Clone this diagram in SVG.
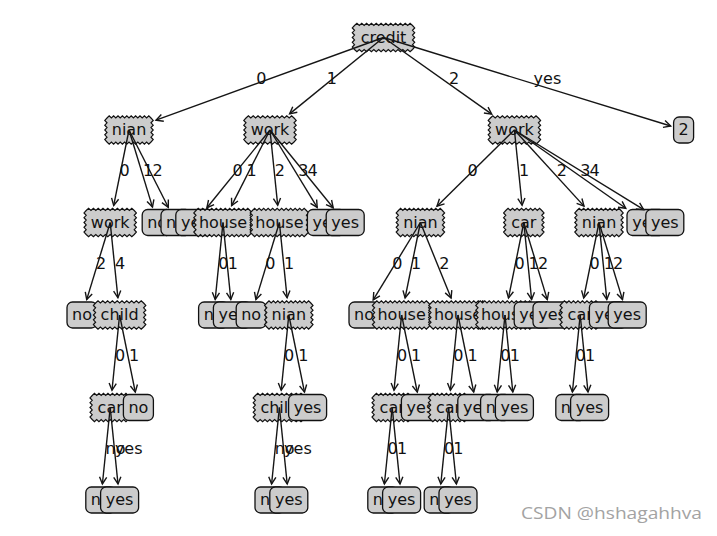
<svg xmlns="http://www.w3.org/2000/svg" width="717" height="536" viewBox="0 0 717 536">
<style>
.d{fill:#cccccc;stroke:#111;stroke-width:1.2;stroke-linejoin:miter}
.lf{fill:#cccccc;stroke:#111;stroke-width:1.3}
.t{font-family:"DejaVu Sans",sans-serif;font-size:16px;text-anchor:middle;fill:#111}
.l{font-family:"DejaVu Sans",sans-serif;font-size:16px;text-anchor:start;fill:#111}
.e{stroke:#151515;stroke-width:1.4;fill:none;marker-end:url(#ah)}
.wm{font-family:"Open Sans","Noto Sans",sans-serif;font-size:16.5px;fill:#a3a3a3}
</style>
<defs>
<marker id="ah" markerWidth="10" markerHeight="10" viewBox="-8 -5 10 10" refX="0" refY="0" orient="auto" markerUnits="userSpaceOnUse" overflow="visible"><path d="M-7,-3.6 L0,0 L-7,3.6" fill="none" stroke="#151515" stroke-width="1.4"/></marker>
<path id="saw58" class="d" d="M-29,-12 l2.4167,-2.2 2.4167,2.2 2.4167,-2.2 2.4167,2.2 2.4167,-2.2 2.4167,2.2 2.4167,-2.2 2.4167,2.2 2.4167,-2.2 2.4167,2.2 2.4167,-2.2 2.4167,2.2 2.4167,-2.2 2.4167,2.2 2.4167,-2.2 2.4167,2.2 2.4167,-2.2 2.4167,2.2 2.4167,-2.2 2.4167,2.2 2.4167,-2.2 2.4167,2.2 2.4167,-2.2 2.4167,2.2 2.2,2.4 -2.2,2.4 2.2,2.4 -2.2,2.4 2.2,2.4 -2.2,2.4 2.2,2.4 -2.2,2.4 2.2,2.4 -2.2,2.4 -2.4167,2.2 -2.4167,-2.2 -2.4167,2.2 -2.4167,-2.2 -2.4167,2.2 -2.4167,-2.2 -2.4167,2.2 -2.4167,-2.2 -2.4167,2.2 -2.4167,-2.2 -2.4167,2.2 -2.4167,-2.2 -2.4167,2.2 -2.4167,-2.2 -2.4167,2.2 -2.4167,-2.2 -2.4167,2.2 -2.4167,-2.2 -2.4167,2.2 -2.4167,-2.2 -2.4167,2.2 -2.4167,-2.2 -2.4167,2.2 -2.4167,-2.2 -2.2,-2.4 2.2,-2.4 -2.2,-2.4 2.2,-2.4 -2.2,-2.4 2.2,-2.4 -2.2,-2.4 2.2,-2.4 -2.2,-2.4 2.2,-2.4z"/>
<path id="saw44" class="d" d="M-22,-12 l2.2,-2.2 2.2,2.2 2.2,-2.2 2.2,2.2 2.2,-2.2 2.2,2.2 2.2,-2.2 2.2,2.2 2.2,-2.2 2.2,2.2 2.2,-2.2 2.2,2.2 2.2,-2.2 2.2,2.2 2.2,-2.2 2.2,2.2 2.2,-2.2 2.2,2.2 2.2,-2.2 2.2,2.2 2.2,2.4 -2.2,2.4 2.2,2.4 -2.2,2.4 2.2,2.4 -2.2,2.4 2.2,2.4 -2.2,2.4 2.2,2.4 -2.2,2.4 -2.2,2.2 -2.2,-2.2 -2.2,2.2 -2.2,-2.2 -2.2,2.2 -2.2,-2.2 -2.2,2.2 -2.2,-2.2 -2.2,2.2 -2.2,-2.2 -2.2,2.2 -2.2,-2.2 -2.2,2.2 -2.2,-2.2 -2.2,2.2 -2.2,-2.2 -2.2,2.2 -2.2,-2.2 -2.2,2.2 -2.2,-2.2 -2.2,-2.4 2.2,-2.4 -2.2,-2.4 2.2,-2.4 -2.2,-2.4 2.2,-2.4 -2.2,-2.4 2.2,-2.4 -2.2,-2.4 2.2,-2.4z"/>
<path id="saw48" class="d" d="M-24,-12 l2.4,-2.2 2.4,2.2 2.4,-2.2 2.4,2.2 2.4,-2.2 2.4,2.2 2.4,-2.2 2.4,2.2 2.4,-2.2 2.4,2.2 2.4,-2.2 2.4,2.2 2.4,-2.2 2.4,2.2 2.4,-2.2 2.4,2.2 2.4,-2.2 2.4,2.2 2.4,-2.2 2.4,2.2 2.2,2.4 -2.2,2.4 2.2,2.4 -2.2,2.4 2.2,2.4 -2.2,2.4 2.2,2.4 -2.2,2.4 2.2,2.4 -2.2,2.4 -2.4,2.2 -2.4,-2.2 -2.4,2.2 -2.4,-2.2 -2.4,2.2 -2.4,-2.2 -2.4,2.2 -2.4,-2.2 -2.4,2.2 -2.4,-2.2 -2.4,2.2 -2.4,-2.2 -2.4,2.2 -2.4,-2.2 -2.4,2.2 -2.4,-2.2 -2.4,2.2 -2.4,-2.2 -2.4,2.2 -2.4,-2.2 -2.2,-2.4 2.2,-2.4 -2.2,-2.4 2.2,-2.4 -2.2,-2.4 2.2,-2.4 -2.2,-2.4 2.2,-2.4 -2.2,-2.4 2.2,-2.4z"/>
<path id="saw36" class="d" d="M-18,-12 l2.25,-2.2 2.25,2.2 2.25,-2.2 2.25,2.2 2.25,-2.2 2.25,2.2 2.25,-2.2 2.25,2.2 2.25,-2.2 2.25,2.2 2.25,-2.2 2.25,2.2 2.25,-2.2 2.25,2.2 2.25,-2.2 2.25,2.2 2.2,2.4 -2.2,2.4 2.2,2.4 -2.2,2.4 2.2,2.4 -2.2,2.4 2.2,2.4 -2.2,2.4 2.2,2.4 -2.2,2.4 -2.25,2.2 -2.25,-2.2 -2.25,2.2 -2.25,-2.2 -2.25,2.2 -2.25,-2.2 -2.25,2.2 -2.25,-2.2 -2.25,2.2 -2.25,-2.2 -2.25,2.2 -2.25,-2.2 -2.25,2.2 -2.25,-2.2 -2.25,2.2 -2.25,-2.2 -2.2,-2.4 2.2,-2.4 -2.2,-2.4 2.2,-2.4 -2.2,-2.4 2.2,-2.4 -2.2,-2.4 2.2,-2.4 -2.2,-2.4 2.2,-2.4z"/>
<path id="saw54" class="d" d="M-27,-12 l2.25,-2.2 2.25,2.2 2.25,-2.2 2.25,2.2 2.25,-2.2 2.25,2.2 2.25,-2.2 2.25,2.2 2.25,-2.2 2.25,2.2 2.25,-2.2 2.25,2.2 2.25,-2.2 2.25,2.2 2.25,-2.2 2.25,2.2 2.25,-2.2 2.25,2.2 2.25,-2.2 2.25,2.2 2.25,-2.2 2.25,2.2 2.25,-2.2 2.25,2.2 2.2,2.4 -2.2,2.4 2.2,2.4 -2.2,2.4 2.2,2.4 -2.2,2.4 2.2,2.4 -2.2,2.4 2.2,2.4 -2.2,2.4 -2.25,2.2 -2.25,-2.2 -2.25,2.2 -2.25,-2.2 -2.25,2.2 -2.25,-2.2 -2.25,2.2 -2.25,-2.2 -2.25,2.2 -2.25,-2.2 -2.25,2.2 -2.25,-2.2 -2.25,2.2 -2.25,-2.2 -2.25,2.2 -2.25,-2.2 -2.25,2.2 -2.25,-2.2 -2.25,2.2 -2.25,-2.2 -2.25,2.2 -2.25,-2.2 -2.25,2.2 -2.25,-2.2 -2.2,-2.4 2.2,-2.4 -2.2,-2.4 2.2,-2.4 -2.2,-2.4 2.2,-2.4 -2.2,-2.4 2.2,-2.4 -2.2,-2.4 2.2,-2.4z"/>
<rect id="lno" class="lf" x="-15" y="-13" width="30" height="26" rx="5.5"/>
<rect id="lyes" class="lf" x="-19" y="-13" width="38" height="26" rx="5.5"/>
<rect id="l2" class="lf" x="-10" y="-13" width="20" height="26" rx="5.5"/>
</defs>
<rect width="717" height="536" fill="#ffffff"/>
<g id="nodes">
<g id="n1" transform="translate(383.5,37.5)"><use href="#saw58"/><text class="t" y="5">credit</text></g>
<g id="n2" transform="translate(129,130)"><use href="#saw44"/><text class="t" y="5">nian</text></g>
<g id="n3" transform="translate(110.2,222.5)"><use href="#saw48"/><text class="t" y="5">work</text></g>
<g id="n4" transform="translate(82,315)"><use href="#lno"/><text class="t" y="5">no</text></g>
<g id="n5" transform="translate(119.6,315)"><use href="#saw48"/><text class="t" y="5">child</text></g>
<g id="n6" transform="translate(110.2,407.5)"><use href="#saw36"/><text class="t" y="5">car</text></g>
<g id="n7" transform="translate(100.8,500)"><use href="#lno"/><text class="t" y="5">no</text></g>
<g id="n8" transform="translate(119.6,500)"><use href="#lyes"/><text class="t" y="5">yes</text></g>
<g id="n9" transform="translate(138.4,407.5)"><use href="#lno"/><text class="t" y="5">no</text></g>
<g id="n10" transform="translate(157.2,222.5)"><use href="#lno"/><text class="t" y="5">no</text></g>
<g id="n11" transform="translate(176,222.5)"><use href="#lno"/><text class="t" y="5">no</text></g>
<g id="n12" transform="translate(270,130)"><use href="#saw48"/><text class="t" y="5">work</text></g>
<g id="n13" transform="translate(194.8,222.5)"><use href="#lyes"/><text class="t" y="5">yes</text></g>
<g id="n14" transform="translate(223,222.5)"><use href="#saw54"/><text class="t" y="5">house</text></g>
<g id="n15" transform="translate(213.6,315)"><use href="#lno"/><text class="t" y="5">no</text></g>
<g id="n16" transform="translate(232.4,315)"><use href="#lyes"/><text class="t" y="5">yes</text></g>
<g id="n17" transform="translate(279.4,222.5)"><use href="#saw54"/><text class="t" y="5">house</text></g>
<g id="n18" transform="translate(251.2,315)"><use href="#lno"/><text class="t" y="5">no</text></g>
<g id="n19" transform="translate(288.8,315)"><use href="#saw44"/><text class="t" y="5">nian</text></g>
<g id="n20" transform="translate(279.4,407.5)"><use href="#saw48"/><text class="t" y="5">child</text></g>
<g id="n21" transform="translate(270,500)"><use href="#lno"/><text class="t" y="5">no</text></g>
<g id="n22" transform="translate(288.8,500)"><use href="#lyes"/><text class="t" y="5">yes</text></g>
<g id="n23" transform="translate(307.6,407.5)"><use href="#lyes"/><text class="t" y="5">yes</text></g>
<g id="n24" transform="translate(326.4,222.5)"><use href="#lyes"/><text class="t" y="5">yes</text></g>
<g id="n25" transform="translate(345.2,222.5)"><use href="#lyes"/><text class="t" y="5">yes</text></g>
<g id="n26" transform="translate(514.4,130)"><use href="#saw48"/><text class="t" y="5">work</text></g>
<g id="n27" transform="translate(420.4,222.5)"><use href="#saw44"/><text class="t" y="5">nian</text></g>
<g id="n28" transform="translate(364,315)"><use href="#lno"/><text class="t" y="5">no</text></g>
<g id="n29" transform="translate(401.6,315)"><use href="#saw54"/><text class="t" y="5">house</text></g>
<g id="n30" transform="translate(392.2,407.5)"><use href="#saw36"/><text class="t" y="5">car</text></g>
<g id="n31" transform="translate(382.8,500)"><use href="#lno"/><text class="t" y="5">no</text></g>
<g id="n32" transform="translate(401.6,500)"><use href="#lyes"/><text class="t" y="5">yes</text></g>
<g id="n33" transform="translate(420.4,407.5)"><use href="#lyes"/><text class="t" y="5">yes</text></g>
<g id="n34" transform="translate(458,315)"><use href="#saw54"/><text class="t" y="5">house</text></g>
<g id="n35" transform="translate(448.6,407.5)"><use href="#saw36"/><text class="t" y="5">car</text></g>
<g id="n36" transform="translate(439.2,500)"><use href="#lno"/><text class="t" y="5">no</text></g>
<g id="n37" transform="translate(458,500)"><use href="#lyes"/><text class="t" y="5">yes</text></g>
<g id="n38" transform="translate(476.8,407.5)"><use href="#lyes"/><text class="t" y="5">yes</text></g>
<g id="n39" transform="translate(523.8,222.5)"><use href="#saw36"/><text class="t" y="5">car</text></g>
<g id="n40" transform="translate(505,315)"><use href="#saw54"/><text class="t" y="5">house</text></g>
<g id="n41" transform="translate(495.6,407.5)"><use href="#lno"/><text class="t" y="5">no</text></g>
<g id="n42" transform="translate(514.4,407.5)"><use href="#lyes"/><text class="t" y="5">yes</text></g>
<g id="n43" transform="translate(533.2,315)"><use href="#lyes"/><text class="t" y="5">yes</text></g>
<g id="n44" transform="translate(552,315)"><use href="#lyes"/><text class="t" y="5">yes</text></g>
<g id="n45" transform="translate(599,222.5)"><use href="#saw44"/><text class="t" y="5">nian</text></g>
<g id="n46" transform="translate(580.2,315)"><use href="#saw36"/><text class="t" y="5">car</text></g>
<g id="n47" transform="translate(570.8,407.5)"><use href="#lno"/><text class="t" y="5">no</text></g>
<g id="n48" transform="translate(589.6,407.5)"><use href="#lyes"/><text class="t" y="5">yes</text></g>
<g id="n49" transform="translate(608.4,315)"><use href="#lyes"/><text class="t" y="5">yes</text></g>
<g id="n50" transform="translate(627.2,315)"><use href="#lyes"/><text class="t" y="5">yes</text></g>
<g id="n51" transform="translate(646,222.5)"><use href="#lyes"/><text class="t" y="5">yes</text></g>
<g id="n52" transform="translate(664.8,222.5)"><use href="#lyes"/><text class="t" y="5">yes</text></g>
<g id="n53" transform="translate(683.6,130)"><use href="#l2"/><text class="t" y="5">2</text></g>
</g>
<g id="connectors">
<line class="e" x1="383.5" y1="37.5" x2="156.0" y2="120.2"/>
<line class="e" x1="383.5" y1="37.5" x2="289.6" y2="113.9"/>
<line class="e" x1="383.5" y1="37.5" x2="491.7" y2="114.1"/>
<line class="e" x1="383.5" y1="37.5" x2="670.7" y2="126.0"/>
<line class="e" x1="129" y1="130" x2="113.7" y2="205.4"/>
<line class="e" x1="129" y1="130" x2="152.5" y2="207.1"/>
<line class="e" x1="129" y1="130" x2="168.3" y2="207.3"/>
<line class="e" x1="270" y1="130" x2="206.9" y2="207.7"/>
<line class="e" x1="270" y1="130" x2="231.6" y2="205.6"/>
<line class="e" x1="270" y1="130" x2="277.7" y2="205.3"/>
<line class="e" x1="270" y1="130" x2="317.2" y2="207.4"/>
<line class="e" x1="270" y1="130" x2="333.2" y2="207.7"/>
<line class="e" x1="514.4" y1="130" x2="437.0" y2="206.2"/>
<line class="e" x1="514.4" y1="130" x2="522.1" y2="205.3"/>
<line class="e" x1="514.4" y1="130" x2="584.0" y2="206.1"/>
<line class="e" x1="514.4" y1="130" x2="625.8" y2="208.3"/>
<line class="e" x1="514.4" y1="130" x2="643.7" y2="209.6"/>
<line class="e" x1="110.2" y1="222.5" x2="86.7" y2="299.6"/>
<line class="e" x1="110.2" y1="222.5" x2="117.9" y2="297.8"/>
<line class="e" x1="223" y1="222.5" x2="215.2" y2="299.5"/>
<line class="e" x1="223" y1="222.5" x2="230.8" y2="299.5"/>
<line class="e" x1="279.4" y1="222.5" x2="255.9" y2="299.6"/>
<line class="e" x1="279.4" y1="222.5" x2="287.1" y2="297.8"/>
<line class="e" x1="420.4" y1="222.5" x2="373.2" y2="299.9"/>
<line class="e" x1="420.4" y1="222.5" x2="405.1" y2="297.9"/>
<line class="e" x1="420.4" y1="222.5" x2="451.1" y2="298.0"/>
<line class="e" x1="523.8" y1="222.5" x2="508.5" y2="297.9"/>
<line class="e" x1="523.8" y1="222.5" x2="531.6" y2="299.5"/>
<line class="e" x1="523.8" y1="222.5" x2="547.3" y2="299.6"/>
<line class="e" x1="599" y1="222.5" x2="583.7" y2="297.9"/>
<line class="e" x1="599" y1="222.5" x2="606.8" y2="299.5"/>
<line class="e" x1="599" y1="222.5" x2="622.5" y2="299.6"/>
<line class="e" x1="119.6" y1="315" x2="112.0" y2="390.3"/>
<line class="e" x1="119.6" y1="315" x2="135.3" y2="392.1"/>
<line class="e" x1="288.8" y1="315" x2="281.2" y2="390.3"/>
<line class="e" x1="288.8" y1="315" x2="304.5" y2="392.1"/>
<line class="e" x1="401.6" y1="315" x2="394.0" y2="390.3"/>
<line class="e" x1="401.6" y1="315" x2="417.3" y2="392.1"/>
<line class="e" x1="458" y1="315" x2="450.4" y2="390.3"/>
<line class="e" x1="458" y1="315" x2="473.7" y2="392.1"/>
<line class="e" x1="505" y1="315" x2="497.2" y2="392.0"/>
<line class="e" x1="505" y1="315" x2="512.8" y2="392.0"/>
<line class="e" x1="580.2" y1="315" x2="572.4" y2="392.0"/>
<line class="e" x1="580.2" y1="315" x2="588.0" y2="392.0"/>
<line class="e" x1="110.2" y1="407.5" x2="102.4" y2="484.0"/>
<line class="e" x1="110.2" y1="407.5" x2="118.0" y2="484.0"/>
<line class="e" x1="279.4" y1="407.5" x2="271.6" y2="484.0"/>
<line class="e" x1="279.4" y1="407.5" x2="287.2" y2="484.0"/>
<line class="e" x1="392.2" y1="407.5" x2="384.4" y2="484.0"/>
<line class="e" x1="392.2" y1="407.5" x2="400.0" y2="484.0"/>
<line class="e" x1="448.6" y1="407.5" x2="440.8" y2="484.0"/>
<line class="e" x1="448.6" y1="407.5" x2="456.4" y2="484.0"/>
</g>
<g id="edge-labels">
<text class="l" x="256.3" y="83.75">0</text>
<text class="l" x="326.8" y="83.75">1</text>
<text class="l" x="449" y="83.75">2</text>
<text class="l" x="533.6" y="83.75">yes</text>
<text class="l" x="119.6" y="176.25">0</text>
<text class="l" x="143.1" y="176.25">1</text>
<text class="l" x="152.6" y="176.25">2</text>
<text class="l" x="232.4" y="176.25">0</text>
<text class="l" x="246.5" y="176.25">1</text>
<text class="l" x="274.7" y="176.25">2</text>
<text class="l" x="298.2" y="176.25">3</text>
<text class="l" x="307.6" y="176.25">4</text>
<text class="l" x="467.4" y="176.25">0</text>
<text class="l" x="519.1" y="176.25">1</text>
<text class="l" x="556.7" y="176.25">2</text>
<text class="l" x="580.2" y="176.25">3</text>
<text class="l" x="589.6" y="176.25">4</text>
<text class="l" x="96.1" y="268.75">2</text>
<text class="l" x="114.9" y="268.75">4</text>
<text class="l" x="218.3" y="268.75">0</text>
<text class="l" x="227.7" y="268.75">1</text>
<text class="l" x="265.3" y="268.75">0</text>
<text class="l" x="284.1" y="268.75">1</text>
<text class="l" x="392.2" y="268.75">0</text>
<text class="l" x="411" y="268.75">1</text>
<text class="l" x="439.2" y="268.75">2</text>
<text class="l" x="514.4" y="268.75">0</text>
<text class="l" x="528.5" y="268.75">1</text>
<text class="l" x="537.9" y="268.75">2</text>
<text class="l" x="589.6" y="268.75">0</text>
<text class="l" x="603.7" y="268.75">1</text>
<text class="l" x="613.1" y="268.75">2</text>
<text class="l" x="114.9" y="361.25">0</text>
<text class="l" x="129" y="361.25">1</text>
<text class="l" x="284.1" y="361.25">0</text>
<text class="l" x="298.2" y="361.25">1</text>
<text class="l" x="396.9" y="361.25">0</text>
<text class="l" x="411" y="361.25">1</text>
<text class="l" x="453.3" y="361.25">0</text>
<text class="l" x="467.4" y="361.25">1</text>
<text class="l" x="500.3" y="361.25">0</text>
<text class="l" x="509.7" y="361.25">1</text>
<text class="l" x="575.5" y="361.25">0</text>
<text class="l" x="584.9" y="361.25">1</text>
<text class="l" x="105.5" y="453.75">no</text>
<text class="l" x="114.9" y="453.75">yes</text>
<text class="l" x="274.7" y="453.75">no</text>
<text class="l" x="284.1" y="453.75">yes</text>
<text class="l" x="387.5" y="453.75">0</text>
<text class="l" x="396.9" y="453.75">1</text>
<text class="l" x="443.9" y="453.75">0</text>
<text class="l" x="453.3" y="453.75">1</text>
</g>
<text class="wm" x="521" y="519" textLength="181" lengthAdjust="spacingAndGlyphs">CSDN @hshagahhva</text>
</svg>
